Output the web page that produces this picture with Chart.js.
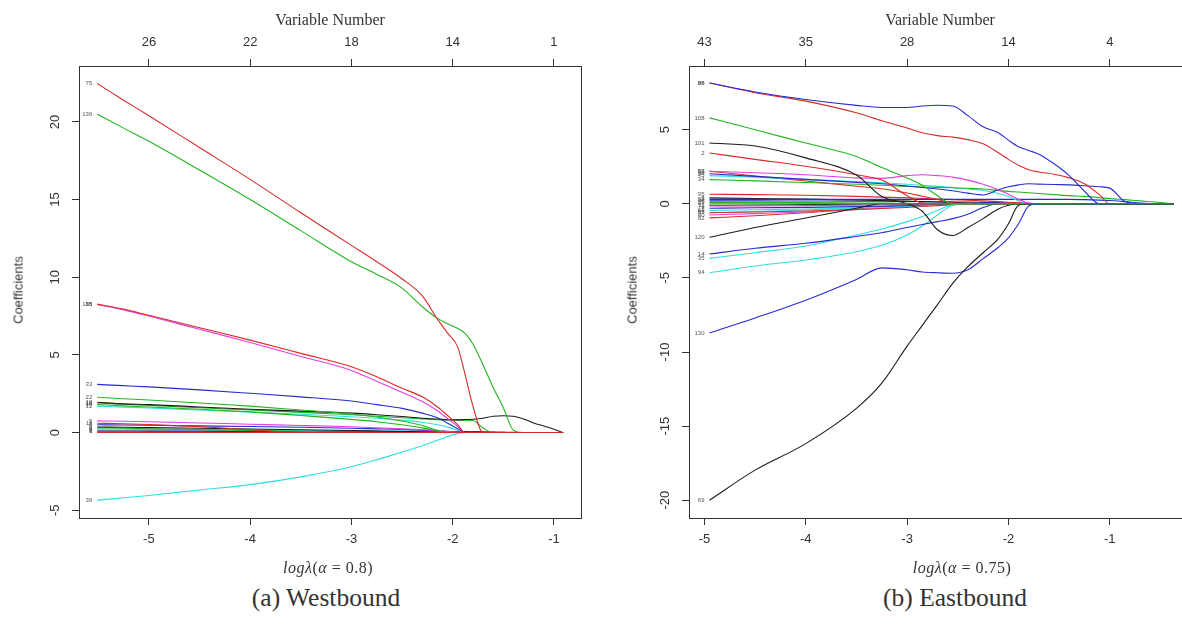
<!DOCTYPE html>
<html>
<head>
<meta charset="utf-8">
<title>Coefficient paths</title>
<script src="https://cdn.jsdelivr.net/npm/chart.js@4.4.1/dist/chart.umd.min.js"></script>
<style>
  html, body { margin: 0; padding: 0; background: #fff; }
  body { width: 1182px; height: 625px; overflow: hidden; position: relative; }
  .box { position: absolute; top: 0; height: 560px; }
  .txt { position: absolute; white-space: nowrap; color: #333; transform: translate(-50%, -50%); }
  .serif { font-family: "Liberation Serif", "Times New Roman", serif; }
  .sans { font-family: "Liberation Sans", Arial, sans-serif; }
  .rot { transform: translate(-50%, -50%) rotate(-90deg); }
</style>
</head>
<body>
<div class="box" style="left:0;width:590px"><canvas id="west" width="590" height="560"></canvas></div>
<div class="box" style="left:590px;width:612px"><canvas id="east" width="612" height="560"></canvas></div>

<div class="txt serif" style="left:330px;top:20px;font-size:16px">Variable Number</div>
<div class="txt serif" style="left:940px;top:20px;font-size:16px">Variable Number</div>
<div class="txt sans rot" style="left:18px;top:290px;font-size:13px">Coefficients</div>
<div class="txt sans rot" style="left:632px;top:290px;font-size:13px">Coefficients</div>
<div class="txt serif" style="left:328px;top:568px;font-size:16px;letter-spacing:0.5px"><i>log&lambda;</i>(<i>&alpha;</i> = 0.8)</div>
<div class="txt serif" style="left:962px;top:568px;font-size:16px;letter-spacing:0.5px"><i>log&lambda;</i>(<i>&alpha;</i> = 0.75)</div>
<div class="txt serif" style="left:326px;top:598px;font-size:25.5px">(a) Westbound</div>
<div class="txt serif" style="left:955px;top:598px;font-size:25.5px">(b) Eastbound</div>

<script>
const BLACK = '#1c1c1c', RED = '#d82a2a', GREEN = '#22b522', BLUE = '#2a2ad0', CYAN = '#30dede', MAGENTA = '#e040e0';

// (a) Westbound
const westLogLambda = [-5.51, -5.25, -5.0, -4.5, -4.0, -3.5, -3.0, -2.75, -2.5, -2.3, -2.15, -2.05, -1.95, -1.88, -1.8, -1.7, -1.6, -1.5, -1.4, -1.3, -1.2, -1.1, -1.0, -0.91];
const westTicks = [-5, -4, -3, -2, -1];
const westVarNumbers = [26, 22, 18, 14, 1];
const westYTicks = [-5, 0, 5, 10, 15, 20];
const westNames = ['4', '7', '1', '9', '6', '3', '8', '11', '5', '12', '16', '19', '10', '22', '33', '135', '88', '136', '75', '36', ''];
const westColors = [BLUE, BLACK, MAGENTA, CYAN, GREEN, BLACK, BLUE, RED, MAGENTA, CYAN, GREEN, GREEN, BLACK, GREEN, BLUE, MAGENTA, RED, GREEN, RED, CYAN, RED];
const westCoefs = [
  [0.1, 0.1, 0.1, 0.1, 0.1, 0.1, 0.09, 0.09, 0.08, 0.08, 0.07, 0.07, 0.06, 0.06, 0.05, 0.04, 0.03, 0.02, 0.01, 0, 0, 0, 0, 0],
  [0.08, 0.08, 0.08, 0.08, 0.07, 0.07, 0.07, 0.06, 0.06, 0.06, 0.05, 0.05, 0.05, 0.04, 0.04, 0.03, 0.02, 0.01, 0, 0, 0, 0, 0, 0],
  [0.05, 0.05, 0.04, 0.03, 0.02, 0.01, 0, 0, 0, 0, 0, 0, 0, 0, 0, 0, 0, 0, 0, 0, 0, 0, 0, 0],
  [0.22, 0.21, 0.2, 0.18, 0.16, 0.14, 0.12, 0.1, 0.09, 0.08, 0.06, 0.04, 0.02, 0, 0, 0, 0, 0, 0, 0, 0, 0, 0, 0],
  [0.3, 0.28, 0.25, 0.2, 0.14, 0.08, 0.03, 0, 0, 0, 0, 0, 0, 0, 0, 0, 0, 0, 0, 0, 0, 0, 0, 0],
  [0.36, 0.34, 0.32, 0.28, 0.23, 0.18, 0.13, 0.1, 0.07, 0.05, 0.03, 0.01, 0, 0, 0, 0, 0, 0, 0, 0, 0, 0, 0, 0],
  [0.5, 0.49, 0.47, 0.43, 0.39, 0.34, 0.28, 0.24, 0.2, 0.16, 0.12, 0.08, 0.04, 0.01, 0, 0, 0, 0, 0, 0, 0, 0, 0, 0],
  [0.6, 0.57, 0.52, 0.38, 0.18, 0.02, 0, 0, 0, 0, 0, 0, 0, 0, 0, 0, 0, 0, 0, 0, 0, 0, 0, 0],
  [0.75, 0.73, 0.7, 0.62, 0.54, 0.46, 0.37, 0.31, 0.24, 0.18, 0.12, 0.07, 0.02, 0, 0, 0, 0, 0, 0, 0, 0, 0, 0, 0],
  [1.7, 1.64, 1.58, 1.45, 1.32, 1.18, 1.02, 0.92, 0.8, 0.66, 0.5, 0.35, 0.15, 0, 0, 0, 0, 0, 0, 0, 0, 0, 0, 0],
  [1.8, 1.72, 1.65, 1.5, 1.33, 1.1, 0.85, 0.7, 0.5, 0.3, 0.12, 0, 0, 0, 0, 0, 0, 0, 0, 0, 0, 0, 0, 0],
  [1.9, 1.82, 1.75, 1.6, 1.45, 1.3, 1.15, 1.05, 0.95, 0.88, 0.83, 0.8, 0.8, 0.8, 0.78, 0.3, 0, 0, 0, 0, 0, 0, 0, 0],
  [1.95, 1.85, 1.8, 1.65, 1.5, 1.38, 1.25, 1.15, 1.03, 0.92, 0.87, 0.83, 0.82, 0.84, 0.86, 0.92, 1.05, 1.08, 1.05, 0.88, 0.62, 0.42, 0.22, 0],
  [2.27, 2.18, 2.1, 1.9, 1.7, 1.45, 1.2, 1.0, 0.75, 0.45, 0.15, 0, 0, 0, 0, 0, 0, 0, 0, 0, 0, 0, 0, 0],
  [3.1, 3.02, 2.94, 2.75, 2.53, 2.3, 2.03, 1.8, 1.56, 1.25, 0.95, 0.6, 0.25, 0, 0, 0, 0, 0, 0, 0, 0, 0, 0, 0],
  [8.25, 7.9, 7.5, 6.65, 5.8, 4.9, 4.0, 3.3, 2.6, 2.0, 1.4, 0.9, 0.4, 0, 0, 0, 0, 0, 0, 0, 0, 0, 0, 0],
  [8.27, 7.95, 7.55, 6.75, 5.95, 5.1, 4.24, 3.6, 2.85, 2.3, 1.65, 1.1, 0.5, 0, 0, 0, 0, 0, 0, 0, 0, 0, 0, 0],
  [20.5, 19.6, 18.75, 16.9, 15.0, 13.0, 11.0, 10.2, 9.3, 8.1, 7.35, 7.0, 6.7, 6.4, 5.7, 4.35, 2.9, 1.6, 0.15, 0, 0, 0, 0, 0],
  [22.47, 21.4, 20.4, 18.35, 16.3, 14.15, 12.05, 11.0, 9.9, 8.8, 7.3, 6.4, 5.5, 3.8, 1.7, 0, 0, 0, 0, 0, 0, 0, 0, 0],
  [-4.35, -4.2, -4.05, -3.7, -3.35, -2.85, -2.2, -1.75, -1.25, -0.85, -0.5, -0.25, -0.07, 0, 0, 0, 0, 0, 0, 0, 0, 0, 0, 0],
  [0, 0, 0, 0, 0, 0, 0, 0, 0, 0, 0, 0, 0, 0, 0, 0, 0, 0, 0, 0, 0, 0, 0, 0]
];

// (b) Eastbound
const eastLogLambda = [-4.95, -4.5, -4.0, -3.5, -3.25, -3.0, -2.85, -2.7, -2.55, -2.4, -2.25, -2.1, -2.0, -1.9, -1.8, -1.7, -1.55, -1.4, -1.25, -1.1, -1.0, -0.85, -0.7, -0.55, -0.37];
const eastTicks = [-5, -4, -3, -2, -1];
const eastVarNumbers = [43, 35, 28, 14, 4];
const eastYTicks = [-20, -15, -10, -5, 0, 5];
const eastNames = ['11', '57', '82', '40', '95', '63', '7', '71', '25', '46', '3', '95', '88', '120', '94', '35', '14', '53', '45', '34', '96', '66', '2', '101', '108', '86', '98', '130', '69', ''];
const eastColors = [BLACK, CYAN, RED, MAGENTA, RED, CYAN, BLUE, MAGENTA, GREEN, BLUE, BLACK, RED, BLUE, BLACK, CYAN, CYAN, BLUE, RED, CYAN, GREEN, BLUE, MAGENTA, RED, BLACK, GREEN, RED, BLUE, BLUE, BLACK, GREEN];
const eastCoefs = [
  [-0.1, -0.08, -0.05, -0.02, 0, 0, 0, 0, 0, 0, 0, 0, 0, 0, 0, 0, 0, 0, 0, 0, 0, 0, 0, 0, 0],
  [-0.6, -0.52, -0.42, -0.3, -0.22, -0.12, -0.06, 0, 0, 0, 0, 0, 0, 0, 0, 0, 0, 0, 0, 0, 0, 0, 0, 0, 0],
  [-0.95, -0.8, -0.6, -0.35, -0.2, -0.05, 0, 0, 0, 0, 0, 0, 0, 0, 0, 0, 0, 0, 0, 0, 0, 0, 0, 0, 0],
  [-0.75, -0.66, -0.55, -0.4, -0.3, -0.18, -0.1, -0.03, 0, 0, 0, 0, 0, 0, 0, 0, 0, 0, 0, 0, 0, 0, 0, 0, 0],
  [-0.6, -0.55, -0.48, -0.38, -0.32, -0.24, -0.18, -0.12, -0.06, 0, 0, 0, 0, 0, 0, 0, 0, 0, 0, 0, 0, 0, 0, 0, 0],
  [-0.45, -0.4, -0.35, -0.28, -0.23, -0.17, -0.12, -0.05, 0, 0, 0, 0, 0, 0, 0, 0, 0, 0, 0, 0, 0, 0, 0, 0, 0],
  [-0.3, -0.27, -0.24, -0.19, -0.16, -0.12, -0.08, -0.04, 0, 0, 0, 0, 0, 0, 0, 0, 0, 0, 0, 0, 0, 0, 0, 0, 0],
  [-0.15, -0.14, -0.12, -0.1, -0.08, -0.06, -0.04, -0.02, -0.01, 0, 0, 0, 0, 0, 0, 0, 0, 0, 0, 0, 0, 0, 0, 0, 0],
  [0.1, 0.09, 0.08, 0.06, 0.05, 0.03, 0.02, 0.01, 0, 0, 0, 0, 0, 0, 0, 0, 0, 0, 0, 0, 0, 0, 0, 0, 0],
  [0.2, 0.2, 0.19, 0.18, 0.17, 0.16, 0.15, 0.14, 0.13, 0.12, 0.1, 0.08, 0.06, 0.04, 0.02, 0, 0, 0, 0, 0, 0, 0, 0, 0, 0],
  [0.4, 0.36, 0.32, 0.26, 0.22, 0.18, 0.15, 0.12, 0.09, 0.06, 0.03, 0.01, 0, 0, 0, 0, 0, 0, 0, 0, 0, 0, 0, 0, 0],
  [0.65, 0.62, 0.58, 0.5, 0.45, 0.4, 0.36, 0.32, 0.28, 0.24, 0.2, 0.15, 0.11, 0.07, 0.03, 0, 0, 0, 0, 0, 0, 0, 0, 0, 0],
  [0.3, 0.3, 0.3, 0.3, 0.3, 0.3, 0.3, 0.3, 0.3, 0.3, 0.3, 0.3, 0.3, 0.3, 0.3, 0.3, 0.3, 0.3, 0.28, 0.25, 0.22, 0.15, 0.05, 0, 0],
  [-2.26, -1.6, -0.96, -0.3, 0, 0, 0, 0, 0, 0, 0, 0, 0, 0, 0, 0, 0, 0, 0, 0, 0, 0, 0, 0, 0],
  [-4.65, -4.2, -3.79, -3.23, -2.8, -2.1, -1.5, -0.75, -0.1, 0, 0, 0, 0, 0, 0, 0, 0, 0, 0, 0, 0, 0, 0, 0, 0],
  [-3.68, -3.3, -2.85, -2.1, -1.7, -1.2, -0.85, -0.45, -0.05, 0, 0, 0, 0, 0, 0, 0, 0, 0, 0, 0, 0, 0, 0, 0, 0],
  [-3.39, -3.0, -2.66, -2.2, -1.95, -1.6, -1.4, -1.2, -1.0, -0.7, -0.25, 0, 0, 0, 0, 0, 0, 0, 0, 0, 0, 0, 0, 0, 0],
  [2.2, 1.88, 1.54, 1.19, 1.02, 0.73, 0.51, 0.29, 0.07, 0, 0, 0, 0, 0, 0, 0, 0, 0, 0, 0, 0, 0, 0, 0, 0],
  [1.9, 1.8, 1.65, 1.5, 1.42, 1.32, 1.25, 1.18, 1.1, 1.0, 0.9, 0.7, 0.5, 0.2, 0, 0, 0, 0, 0, 0, 0, 0, 0, 0, 0],
  [1.63, 1.55, 1.44, 1.32, 1.25, 1.17, 1.14, 1.11, 1.08, 1.05, 1.0, 0.9, 0.84, 0.8, 0.75, 0.7, 0.62, 0.55, 0.5, 0.42, 0.35, 0.28, 0.2, 0.12, 0],
  [2.03, 1.85, 1.65, 1.45, 1.35, 1.2, 1.1, 1.0, 0.88, 0.72, 0.6, 0.95, 1.15, 1.28, 1.35, 1.33, 1.3, 1.28, 1.22, 1.15, 1.06, 0.15, 0, 0, 0],
  [2.19, 2.1, 1.96, 1.75, 1.72, 1.9, 1.96, 1.9, 1.8, 1.6, 1.32, 0.95, 0.65, 0.3, 0.05, 0, 0, 0, 0, 0, 0, 0, 0, 0, 0],
  [3.43, 3.0, 2.53, 1.96, 1.6, 0.55, 0.05, 0, 0, 0, 0, 0, 0, 0, 0, 0, 0, 0, 0, 0, 0, 0, 0, 0, 0],
  [4.1, 3.9, 3.1, 1.95, 0.5, 0, -0.5, -1.75, -2.14, -1.6, -1.0, -0.35, -0.1, 0, 0, 0, 0, 0, 0, 0, 0, 0, 0, 0, 0],
  [5.8, 5.0, 4.1, 3.2, 2.45, 1.74, 1.25, 0.55, 0, 0, 0, 0, 0, 0, 0, 0, 0, 0, 0, 0, 0, 0, 0, 0, 0],
  [8.15, 7.5, 6.93, 6.14, 5.6, 5.12, 4.8, 4.6, 4.5, 4.33, 4.05, 3.45, 3.0, 2.6, 2.3, 2.15, 2.0, 1.75, 1.35, 0.6, 0, 0, 0, 0, 0],
  [8.15, 7.55, 7.04, 6.64, 6.5, 6.5, 6.6, 6.65, 6.6, 5.95, 5.2, 4.8, 4.3, 3.85, 3.6, 3.35, 2.7, 1.9, 0.85, 0, 0, 0, 0, 0, 0],
  [-8.71, -7.7, -6.5, -5.1, -4.32, -4.45, -4.6, -4.65, -4.68, -4.45, -3.7, -2.93, -2.3, -1.35, -0.15, 0, 0, 0, 0, 0, 0, 0, 0, 0, 0],
  [-20.0, -17.97, -16.18, -13.8, -12.1, -9.6, -8.2, -6.8, -5.37, -4.24, -3.3, -2.35, -1.35, -0.1, 0, 0, 0, 0, 0, 0, 0, 0, 0, 0, 0],
  [0, 0, 0, 0, 0, 0, 0, 0, 0, 0, 0, 0, 0, 0, 0, 0, 0, 0, 0, 0, 0, 0, 0, 0, 0]
];

const TICK_FONT = { family: '"Liberation Sans", Arial, sans-serif', size: 13 };

// box round the plot, rotated y tick labels, variable labels at the left end
const framePlugin = {
  id: 'frame',
  afterDraw(chart) {
    const { ctx, chartArea: a, scales } = chart;
    ctx.save();
    ctx.strokeStyle = '#333';
    ctx.lineWidth = 1;
    ctx.strokeRect(a.left + 0.5, a.top + 0.5, a.right - a.left, a.bottom - a.top);

    ctx.fillStyle = '#333';
    ctx.font = '13px "Liberation Sans", Arial, sans-serif';
    ctx.textAlign = 'center';
    ctx.textBaseline = 'alphabetic';
    scales.y.ticks.forEach(t => {
      const py = scales.y.getPixelForValue(t.value);
      ctx.save();
      ctx.translate(a.left - 20, py);
      ctx.rotate(-Math.PI / 2);
      ctx.fillText(String(t.value), 0, 0);
      ctx.restore();
    });

    ctx.font = '6px "Liberation Sans", Arial, sans-serif';
    ctx.fillStyle = '#555';
    ctx.textAlign = 'right';
    ctx.textBaseline = 'middle';
    chart.data.datasets.forEach((ds, i) => {
      if (!ds.label) return;
      const p = chart.getDatasetMeta(i).data[0];
      ctx.fillText(ds.label, p.x - 5, p.y);
    });
    ctx.restore();
  }
};

function makeChart(id, xs, coefs, colors, names, xTicks, varNumbers, yTicks, xr, yr, yWidth, rightPad) {
  const datasets = coefs.map((ys, i) => ({
    label: names[i],
    data: xs.map((x, j) => ({ x: x, y: ys[j] })),
    borderColor: colors[i],
    borderWidth: 1.1,
    pointRadius: 0,
    cubicInterpolationMode: 'monotone',
    fill: false,
    order: -i
  }));
  const tickGrid = { display: true, drawOnChartArea: false, drawTicks: true, tickLength: 7, color: '#333' };
  return new Chart(document.getElementById(id), {
    type: 'line',
    data: { datasets: datasets },
    plugins: [framePlugin],
    options: {
      responsive: false,
      animation: false,
      layout: { padding: { left: 0, right: rightPad, top: 0, bottom: 0 } },
      plugins: { legend: { display: false }, tooltip: { enabled: false } },
      scales: {
        x: {
          type: 'linear', position: 'bottom', min: xr[0], max: xr[1],
          afterBuildTicks: s => { s.ticks = xTicks.map(v => ({ value: v })); },
          afterFit: s => { s.height = 42; },
          ticks: { color: '#333', font: TICK_FONT, padding: 7, maxRotation: 0, callback: v => String(v) },
          grid: tickGrid,
          border: { display: false }
        },
        x2: {
          type: 'linear', position: 'top', min: xr[0], max: xr[1],
          afterBuildTicks: s => { s.ticks = xTicks.map(v => ({ value: v })); },
          afterFit: s => { s.height = 66; },
          ticks: { color: '#333', font: TICK_FONT, padding: 9, maxRotation: 0,
                   callback: v => String(varNumbers[xTicks.indexOf(v)]) },
          grid: tickGrid,
          border: { display: false }
        },
        y: {
          type: 'linear', min: yr[0], max: yr[1],
          afterBuildTicks: s => { s.ticks = yTicks.map(v => ({ value: v })); },
          afterFit: s => { s.width = yWidth; },
          ticks: { display: false },
          grid: tickGrid,
          border: { display: false }
        }
      }
    }
  });
}

makeChart('west', westLogLambda, westCoefs, westColors, westNames, westTicks, westVarNumbers, westYTicks,
  [-5.69, -0.733], [-5.5, 23.6], 79, 9);
makeChart('east', eastLogLambda, eastCoefs, eastColors, eastNames, eastTicks, eastVarNumbers, eastYTicks,
  [-5.152, -0.189], [-21.2, 9.3], 99, 10);
</script>
</body>
</html>
